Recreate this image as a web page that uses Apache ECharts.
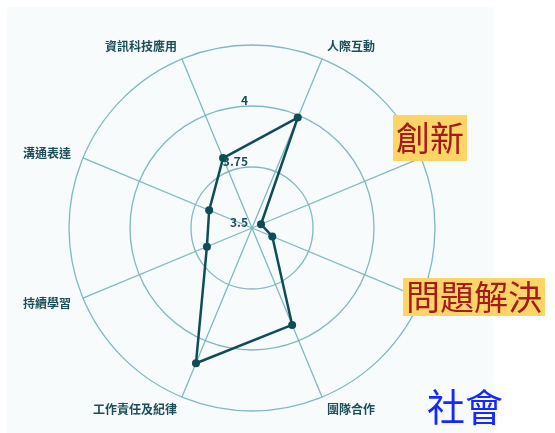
<!DOCTYPE html>
<html lang="zh-Hant">
<head>
    <meta charset="UTF-8">
    <title>雷達圖</title>
    <script src="https://cdn.jsdelivr.net/npm/echarts@6/dist/echarts.min.js"></script>
    <style>
        body{
            padding: 0px;
            margin: 0px;
            background-color: #ffffff;
        }
        #radar{
            width: 555px;
            height: 433px;
        }
    </style>
</head>
<body>
    <div id="radar"></div>
    <script>
    // 指標 (逆時針, 從右上開始)
    var indicators = ['人際互動', '資訊科技應用', '溝通表達', '持續學習', '工作責任及紀律', '團隊合作', '問題解決', '創新'];
    var scores = [3.99, 3.81, 3.69, 3.70, 4.10, 3.93, 3.59, 3.54];
    var tickLabels = ['3.5', '3.75', '4', ''];
    // 另外標示的文字
    var highlightNames = ['創新', '問題解決'];
    var groupName = '社會';

    var minVal = 3.5, maxVal = 4.25, step = 0.25;
    var center = [252, 228], radius = 183;
    var cjk = '"Noto Sans CJK TC", "Noto Sans", sans-serif';

    var chart = echarts.init(document.getElementById('radar'), null, {renderer: 'canvas'});

    chart.setOption({
        backgroundColor: '#ffffff',
        animation: false,
        graphic: [
            {
                type: 'rect', z: -10, silent: true,
                shape: {x: 7, y: 7, width: 486, height: 430},
                style: {fill: '#f7fbfb'}
            },
            {
                type: 'text', z: 100, left: 393, top: 115,
                style: {
                    text: highlightNames[0], fill: '#a51a1a', font: '34px ' + cjk,
                    backgroundColor: '#fdd566', padding: [6, 3, 6, 3]
                }
            },
            {
                type: 'text', z: 100, left: 403, top: 278,
                style: {
                    text: highlightNames[1], fill: '#a51a1a', font: '34px ' + cjk,
                    backgroundColor: '#fdd566', padding: [2, 3, 2, 3]
                }
            },
            {
                type: 'text', z: 100, left: 427, top: 388,
                style: {text: groupName, fill: '#1428ff', font: '38px ' + cjk}
            }
        ],
        radar: {
            center: center,
            radius: radius,
            startAngle: 67.5,
            shape: 'circle',
            splitNumber: 3,
            indicator: indicators.map(function (n) {
                return {name: n, min: minVal, max: maxVal};
            }),
            axisName: {
                color: '#1d4d58',
                fontSize: 12,
                fontWeight: 'bold',
                fontFamily: cjk,
                formatter: function (v) {
                    return highlightNames.indexOf(v) >= 0 ? '' : v;
                }
            },
            nameGap: 13,
            axisLine: {lineStyle: {color: '#82b9c0', width: 1.3}},
            splitLine: {lineStyle: {color: '#82b9c0', width: 1.3}},
            splitArea: {show: false}
        },
        // 只用來放 3.5 / 3.75 / 4 刻度文字
        polar: {center: center, radius: radius},
        angleAxis: {show: false, startAngle: 90, min: 0, max: 360},
        radiusAxis: {
            min: minVal, max: maxVal, interval: step,
            axisLine: {show: false}, axisTick: {show: false}, splitLine: {show: false},
            axisLabel: {
                color: '#1d4d58', fontSize: 12, fontWeight: 'bold', fontFamily: cjk,
                margin: 4,
                verticalAlign: 'bottom',
                formatter: function (v) {
                    return tickLabels[Math.round((v - minVal) / step)];
                }
            },
            z: 20
        },
        series: [{
            type: 'radar',
            symbol: 'circle',
            symbolSize: 8,
            lineStyle: {color: '#0f4c55', width: 2.5},
            itemStyle: {color: '#0f4c55'},
            z: 10,
            data: [{value: scores}]
        }]
    });
    </script>
</body>
</html>
